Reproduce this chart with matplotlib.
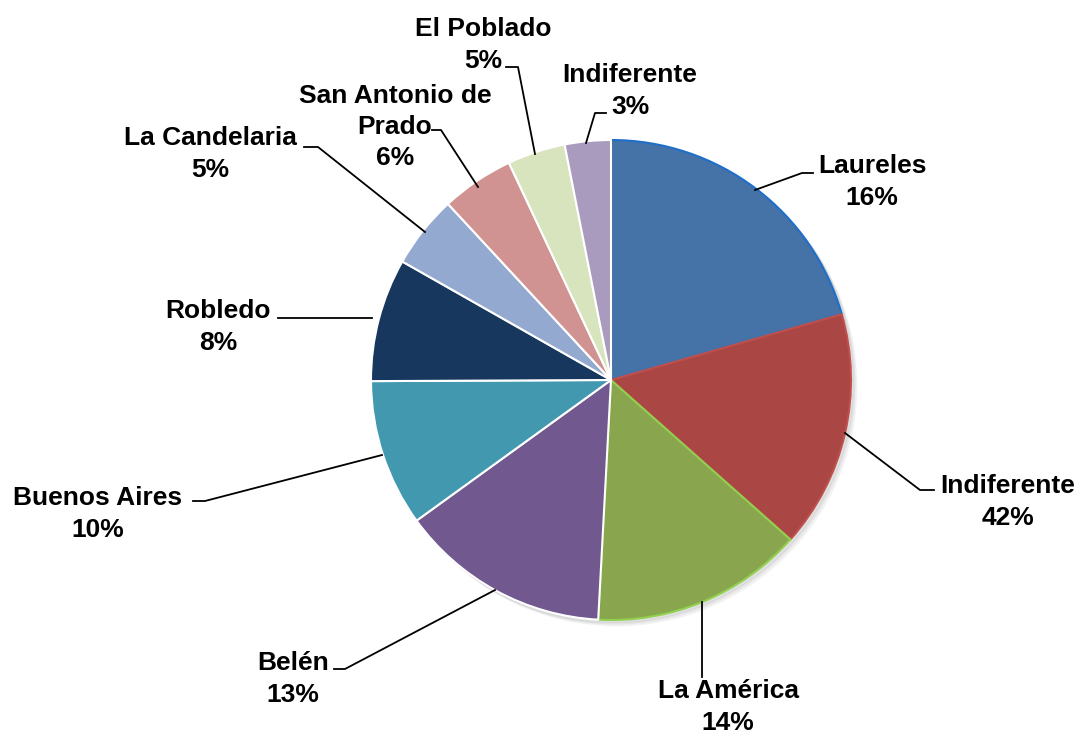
import matplotlib.pyplot as plt

# slice sizes (percent of the circle)
sizes = [20.6, 16.0, 14.3, 14.2, 9.9, 8.3, 4.9, 4.9, 3.9, 3.1]
labels = ['Laureles\n16%', 'Indiferente\n42%', 'La América\n14%', 'Belén\n13%',
          'Buenos Aires\n10%', 'Robledo\n8%', 'La Candelaria\n5%',
          'San Antonio de\nPrado\n6%', 'El Poblado\n5%', 'Indiferente\n3%']
colors = ['#4572A7', '#AA4643', '#89A54E', '#71588F', '#4198AF',
          '#17375E', '#93A9CF', '#D19392', '#D7E4BD', '#A99BBD']
edges = ['#1F6FC8', '#C0504D', '#92D050', 'white', 'white',
         'white', 'white', 'white', 'white', 'white']

# label block centres and leader line points, in pixels of the 1082x736 canvas
label_pos = [(872, 182), (1008, 502), (728, 707), (293, 679), (98, 514),
             (218, 327), (210, 154), (395, 127), (483, 45), (630, 91)]
leaders = [
    [(755, 190), (802, 173), (813, 173)],
    [(845, 433), (920, 490), (934, 490)],
    [(702, 602), (702, 677)],
    [(495, 590), (345, 669), (334, 669)],
    [(382, 455), (205, 501), (193, 501)],
    [(372, 318), (278, 318)],
    [(425, 232), (318, 147), (304, 147)],
    [(478, 187), (441, 130), (432, 130)],
    [(535, 154), (518, 67), (506, 67)],
    [(586, 143), (595, 113), (606, 113)],
]

W, H = 1082, 736
cx, cy, R = 611, 380, 240


def to_data(p):
    return (p[0] - cx) / R, (cy - p[1]) / R


fig = plt.figure(figsize=(W / 100, H / 100), dpi=100)
ax = fig.add_axes([0, 0, 1, 1])

# soft shadow behind the pie
for i, a in enumerate([0.05, 0.04, 0.03]):
    shadow = plt.Circle((0.012 + i * 0.006, -0.012 - i * 0.006), 1.0,
                        color='black', alpha=a, zorder=0)
    ax.add_patch(shadow)

wedges, _ = ax.pie(sizes, colors=colors, startangle=90, counterclock=False,
                   radius=1.0, center=(0, 0), frame=True)
for w, ec in zip(wedges, edges):
    w.set_edgecolor(ec)
    w.set_linewidth(1.5)
    w.set_zorder(2)

ax.set_xlim(-cx / R, (W - cx) / R)
ax.set_ylim(-(H - cy) / R, cy / R)
ax.set_aspect('equal')
ax.axis('off')

for pts in leaders:
    xs, ys = zip(*[to_data(p) for p in pts])
    ax.plot(xs, ys, color='black', lw=1.3, zorder=3)

for lab, pos in zip(labels, label_pos):
    x, y = to_data(pos)
    ax.text(x, y, lab, ha='center', va='center', fontsize=19,
            fontweight='bold', family=['Liberation Sans', 'DejaVu Sans'],
            linespacing=1.38, zorder=4)

fig.savefig('out.png', dpi=100)
